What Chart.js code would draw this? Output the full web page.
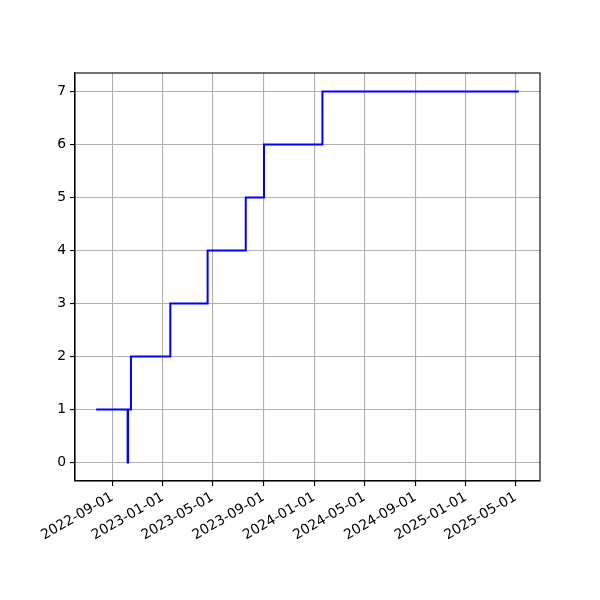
<!DOCTYPE html>
<html>
<head>
<meta charset="utf-8">
<script src="https://cdn.jsdelivr.net/npm/chart.js@4/dist/chart.umd.min.js"></script>
<style>
html,body{margin:0;padding:0;background:#fff;}
#c{display:block;width:600px;height:600px;}
</style>
</head>
<body>
<canvas id="c" width="600" height="600"></canvas>
<script>
// Data (step-post line)
const stepDates = ['2022-07-24','2022-10-08','2022-10-09','2022-10-16','2023-01-19','2023-04-19','2023-07-20','2023-09-02','2024-01-21','2025-05-09'];
const stepValues = [1, 0, 1, 2, 3, 4, 5, 6, 7, 7];
const xTickDates = ['2022-09-01','2023-01-01','2023-05-01','2023-09-01','2024-01-01','2024-05-01','2024-09-01','2025-01-01','2025-05-01'];
const yTickValues = [0, 1, 2, 3, 4, 5, 6, 7];

function toTs(s){ const p = s.split('-').map(Number); return Date.UTC(p[0], p[1]-1, p[2]); }
function fmt(ts){ const d = new Date(ts); const p = n => String(n).padStart(2,'0');
  return d.getUTCFullYear()+'-'+p(d.getUTCMonth()+1)+'-'+p(d.getUTCDate()); }

const points = stepDates.map((d,i) => ({x: toTs(d), y: stepValues[i]}));
const xs = points.map(p => p.x);
const xMinD = Math.min(...xs), xMaxD = Math.max(...xs);
const xPad = 0.05 * (xMaxD - xMinD);
const yMinD = Math.min(...stepValues), yMaxD = Math.max(...stepValues);
const yPad = 0.05 * (yMaxD - yMinD);
const xTicks = xTickDates.map(toTs);

const FONT = {family: "'DejaVu Sans', sans-serif", size: 13.9};

const frame = {
  id: 'frame',
  afterDraw(chart){
    const {ctx, chartArea:a} = chart;
    ctx.save();
    ctx.strokeStyle = '#000';
    ctx.lineWidth = 1.1;
    ctx.strokeRect(a.left, a.top, a.right - a.left, a.bottom - a.top);
    ctx.restore();
  }
};

new Chart(document.getElementById('c'), {
  type: 'line',
  data: {
    datasets: [{
      data: points,
      borderColor: '#0000ff',
      borderWidth: 2,
      stepped: 'before',
      pointRadius: 0,
      fill: false,
      tension: 0
    }]
  },
  options: {
    responsive: false,
    animation: false,
    devicePixelRatio: 1,
    layout: {padding: {left: 0, right: 60, top: 73, bottom: 0}},
    plugins: {legend: {display: false}, tooltip: {enabled: false}},
    scales: {
      x: {
        type: 'linear',
        min: xMinD - xPad,
        max: xMaxD + xPad,
        afterBuildTicks(s){ s.ticks = xTicks.map(v => ({value: v})); },
        afterFit(s){ s.height = 119; },
        grid: {color: '#b0b0b0', lineWidth: 1.1, tickColor: '#000', tickLength: 5, drawTicks: true},
        border: {color: '#000', width: 1.1},
        ticks: {
          autoSkip: false, minRotation: 30, maxRotation: 30, padding: 3,
          color: '#000', font: FONT,
          callback: v => fmt(v)
        }
      },
      y: {
        type: 'linear',
        min: yMinD - yPad,
        max: yMaxD + yPad,
        afterBuildTicks(s){ s.ticks = yTickValues.map(v => ({value: v})); },
        afterFit(s){ s.width = 75; },
        grid: {color: '#b0b0b0', lineWidth: 1.1, tickColor: '#000', tickLength: 5, drawTicks: true},
        border: {color: '#000', width: 1.1},
        ticks: {color: '#000', font: FONT, padding: 4, callback: v => String(v)}
      }
    }
  },
  plugins: [frame]
});
</script>
</body>
</html>
